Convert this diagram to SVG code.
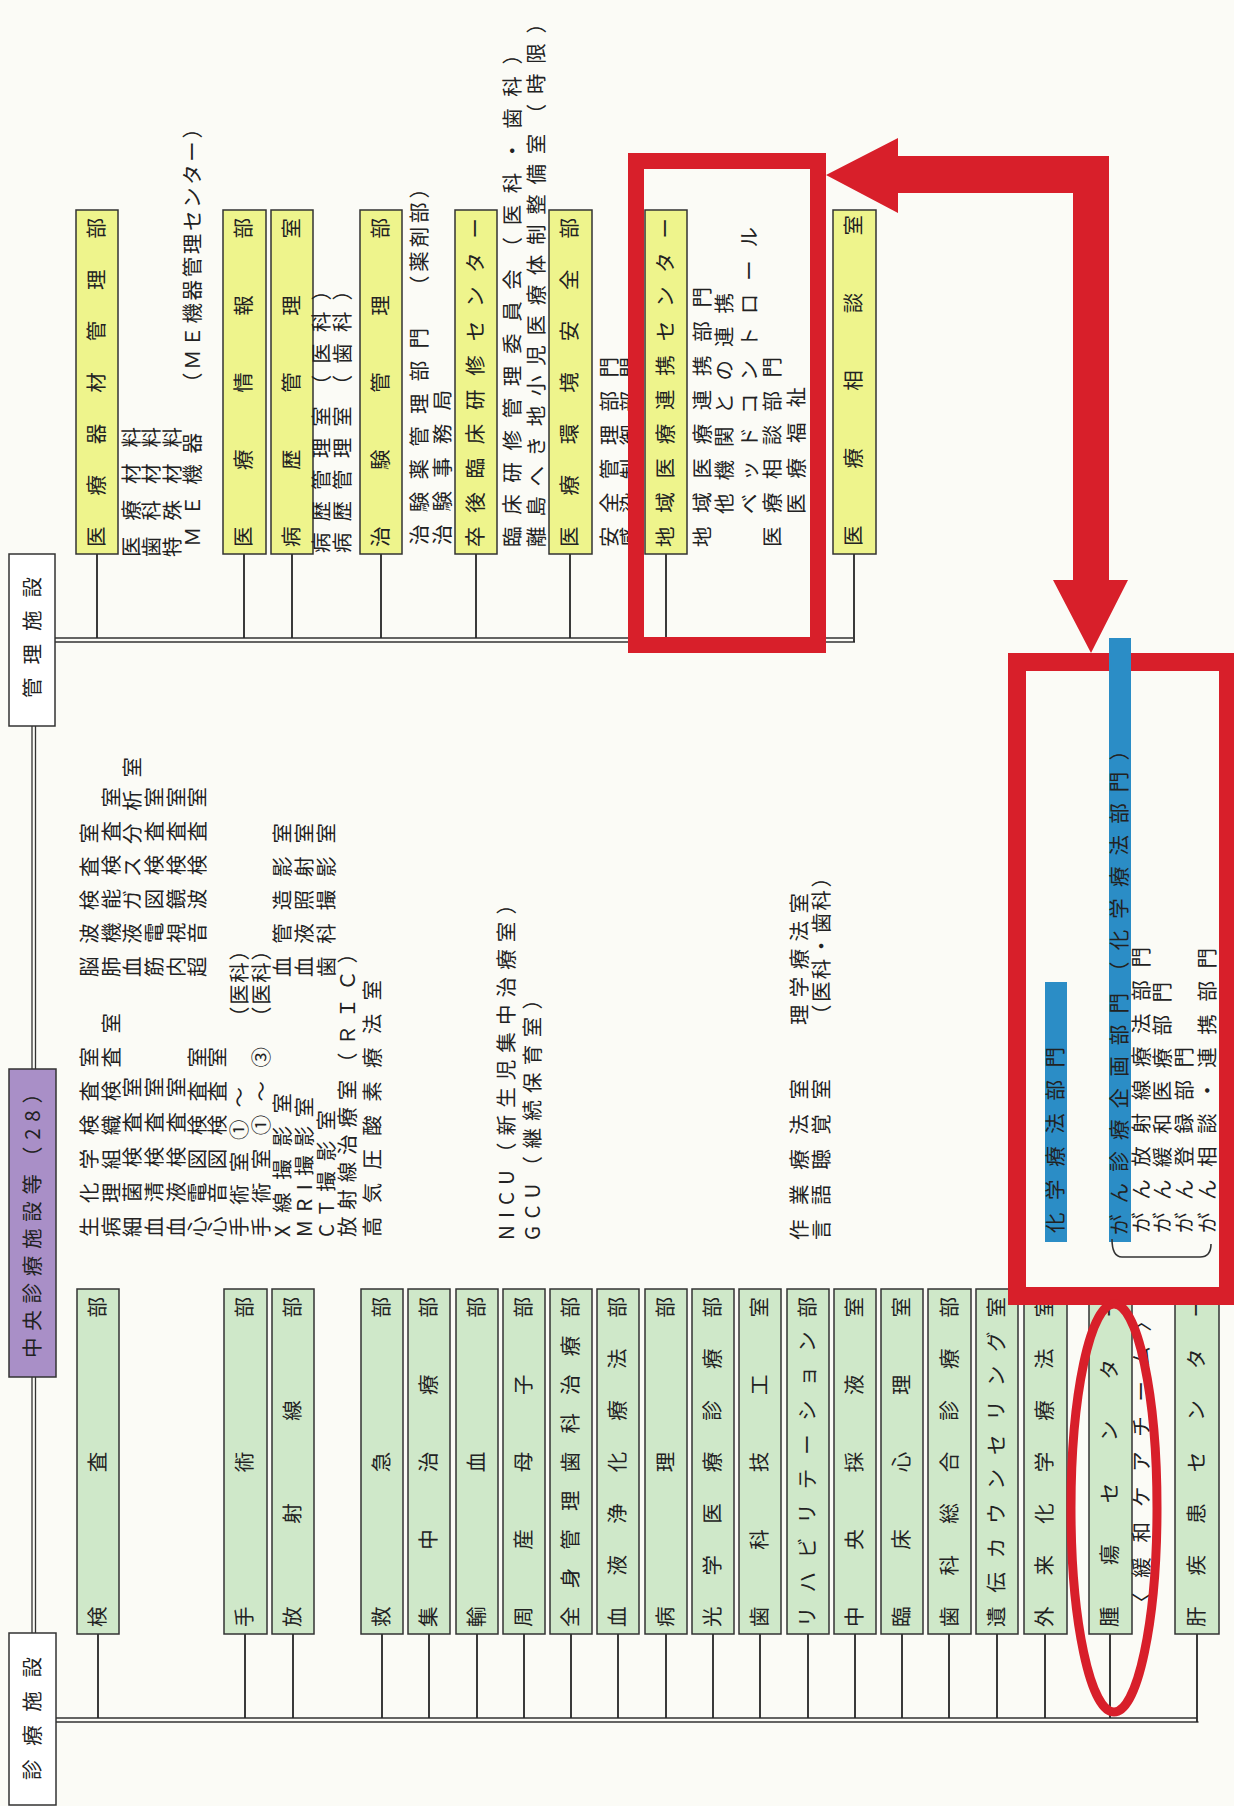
<svg xmlns="http://www.w3.org/2000/svg" width="1234" height="1806" viewBox="0 0 1234 1806">
<style>
.t{font-family:"Noto Sans CJK JP","Noto Sans CJK SC",sans-serif;font-size:20.5px;fill:#222}
.bx{stroke:#333;stroke-width:1.5}
.g{fill:#cfe8c9}.y{fill:#eef48c}.w{fill:#ffffff}.p{fill:#a98fc7}
.ln{stroke:#262626;stroke-width:1.8;fill:none}
.dl{stroke:#333;stroke-width:1.3;fill:none}
.rs{fill:none;stroke:#d81f2a}
.bl{fill:#2b8dc6}
</style>
<rect width="1234" height="1806" fill="#fbfbf6"/>
<g transform="matrix(0 -1 1 0 0 1806)">
<g id="connectors">
<path class="dl" d="M173 32H429M173 35.5H429M737 32H1080M737 35.5H1080"/>
<path class="dl" d="M88 56V1197M84 56V1198.5"/>
<path class="dl" d="M1168 55V853M1164 55V855"/>
<path class="ln" d="M88 98H172M88 245H172M88 293H172M88 382H172M88 429H172M88 477H172M88 524H172M88 571H172M88 618H172M88 666H172M88 713H172M88 760H172M88 808H172M88 855H172M88 902H172M88 949H172M88 997H172M88 1045H172M88 1110H172M84 1197H172"/>
<path class="ln" d="M1168 97H1252M1168 244H1252M1168 292H1252M1168 381H1252M1168 476H1252M1168 570H1252M1168 666H1252M1164 854H1252"/>
</g>
<g id="h-shinryo"><rect class="bx w" x="1" y="9" width="172" height="47"/><text class="t" x="26" y="40" textLength="123">診療施設</text></g>
<g id="h-chuo"><rect class="bx p" x="429" y="9" width="308" height="47"/><text class="t" x="448" y="40" textLength="275">中央診療施設等（28）</text></g>
<g id="h-kanri"><rect class="bx w" x="1080" y="9" width="172" height="46"/><text class="t" x="1108" y="40" textLength="121">管理施設</text></g>

<g id="n-kensa"><rect class="bx g" x="172" y="77" width="345" height="42"/><text class="t" x="179" y="105" textLength="330">検査部</text>
<text class="t" x="569" y="97" textLength="190">生化学検査室</text><text class="t" x="829" y="97" textLength="154">脳波検査室</text>
<text class="t" x="569" y="119" textLength="224">病理組織検査室</text><text class="t" x="829" y="119" textLength="190">肺機能検査室</text>
<text class="t" x="569" y="140" textLength="160">細菌検査室</text><text class="t" x="829" y="140" textLength="220">血液ガス分析室</text>
<text class="t" x="569" y="162" textLength="160">血清検査室</text><text class="t" x="829" y="162" textLength="190">筋電図検査室</text>
<text class="t" x="569" y="184" textLength="160">血液検査室</text><text class="t" x="829" y="184" textLength="190">内視鏡検査室</text>
<text class="t" x="569" y="205" textLength="190">心電図検査室</text><text class="t" x="829" y="205" textLength="190">超音波検査室</text>
<text class="t" x="569" y="225" textLength="190">心音図検査室</text></g>
<g id="n-shujutsu"><rect class="bx g" x="172" y="224" width="345" height="43"/><text class="t" x="179" y="252" textLength="330">手術部</text>
<text class="t" x="569" y="247" textLength="150">手術室①～</text><text class="t" x="779" y="247" textLength="87">（医科）</text>
<text class="t" x="569" y="269" textLength="190">手術室①～③</text><text class="t" x="779" y="269" textLength="87">（医科）</text></g>
<g id="n-hoshasen"><rect class="bx g" x="172" y="272" width="345" height="42"/><text class="t" x="179" y="300" textLength="330">放射線部</text>
<text class="t" x="569" y="290" textLength="144">X線撮影室</text><text class="t" x="829" y="290" textLength="154">血管造影室</text>
<text class="t" x="569" y="312" textLength="140">MRI撮影室</text><text class="t" x="829" y="312" textLength="154">血液照射室</text>
<text class="t" x="569" y="334" textLength="127">CT撮影室</text><text class="t" x="829" y="334" textLength="154">歯科撮影室</text>
<text class="t" x="569" y="355" textLength="294">放射線治療室（ＲＩＣ）</text>
<text class="t" x="569" y="380" textLength="257">高気圧酸素療法室</text></g>
<g id="n-kyukyu"><rect class="bx g" x="172" y="361" width="345" height="42"/><text class="t" x="179" y="389" textLength="330">救急部</text></g>
<g id="n-shuchu"><rect class="bx g" x="172" y="408" width="345" height="42"/><text class="t" x="179" y="436" textLength="330">集中治療部</text></g>
<g id="n-yuketsu"><rect class="bx g" x="172" y="456" width="345" height="42"/><text class="t" x="179" y="484" textLength="330">輸血部</text></g>
<g id="n-shusan"><rect class="bx g" x="172" y="503" width="345" height="42"/><text class="t" x="179" y="531" textLength="330">周産母子部</text>
<text class="t" x="566" y="514" textLength="346">NICU（新生児集中治療室）</text>
<text class="t" x="566" y="540" textLength="251">GCU（継続保育室）</text></g>
<g id="n-zenshin"><rect class="bx g" x="172" y="550" width="345" height="42"/><text class="t" x="179" y="578" textLength="330">全身管理歯科治療部</text></g>
<g id="n-ketsueki"><rect class="bx g" x="172" y="597" width="345" height="42"/><text class="t" x="179" y="625" textLength="330">血液浄化療法部</text></g>
<g id="n-byori"><rect class="bx g" x="172" y="645" width="345" height="42"/><text class="t" x="179" y="673" textLength="330">病理部</text></g>
<g id="n-kogaku"><rect class="bx g" x="172" y="692" width="345" height="42"/><text class="t" x="179" y="720" textLength="330">光学医療診療部</text></g>
<g id="n-gikou"><rect class="bx g" x="172" y="739" width="345" height="42"/><text class="t" x="179" y="767" textLength="330">歯科技工室</text></g>
<g id="n-reha"><rect class="bx g" x="172" y="787" width="345" height="42"/><text class="t" x="179" y="815" textLength="330">リハビリテーション部</text>
<text class="t" x="566" y="807" textLength="161">作業療法室</text><text class="t" x="781" y="807" textLength="132">理学療法室</text>
<text class="t" x="566" y="829" textLength="161">言語聴覚室</text><text class="t" x="781" y="829" textLength="158">（医科・歯科）</text></g>
<g id="n-saieki"><rect class="bx g" x="172" y="834" width="345" height="42"/><text class="t" x="179" y="862" textLength="330">中央採液室</text></g>
<g id="n-shinri"><rect class="bx g" x="172" y="881" width="345" height="42"/><text class="t" x="179" y="909" textLength="330">臨床心理室</text></g>
<g id="n-sogo"><rect class="bx g" x="172" y="928" width="345" height="43"/><text class="t" x="179" y="957" textLength="330">歯科総合診療部</text></g>
<g id="n-iden"><rect class="bx g" x="172" y="976" width="345" height="42"/><text class="t" x="179" y="1004" textLength="330">遺伝カウンセリング室</text></g>
<g id="n-gairai"><rect class="bx g" x="172" y="1024" width="345" height="43"/><text class="t" x="179" y="1052" textLength="330">外来化学療法室</text></g>
<g id="n-shuyo"><rect class="bx g" x="172" y="1089" width="345" height="43"/><text class="t" x="179" y="1117" textLength="330">腫瘍センター</text>
<text class="t" x="193" y="1149" textLength="302">〈緩和ケアチーム〉</text></g>
<g id="n-kanshikkan"><rect class="bx g" x="172" y="1175" width="345" height="44"/><text class="t" x="179" y="1204" textLength="330">肝疾患センター</text></g>

<g id="n-kizai"><rect class="bx y" x="1252" y="76" width="344" height="42"/><text class="t" x="1259" y="104" textLength="329">医療器材管理部</text>
<text class="t" x="1249" y="139" textLength="130">医療材料</text>
<text class="t" x="1249" y="159" textLength="130">歯科材料</text>
<text class="t" x="1249" y="180" textLength="130">特殊材料</text>
<text class="t" x="1259" y="200" textLength="114">ＭＥ機器</text><text class="t" x="1413" y="200" textLength="275">（ＭＥ機器管理センター）</text></g>
<g id="n-joho"><rect class="bx y" x="1252" y="223" width="344" height="43"/><text class="t" x="1259" y="251" textLength="329">医療情報部</text></g>
<g id="n-byoreki"><rect class="bx y" x="1252" y="271" width="344" height="42"/><text class="t" x="1259" y="299" textLength="329">病歴管理室</text>
<text class="t" x="1253" y="329" textLength="273">病歴管理室（医科）</text>
<text class="t" x="1253" y="350" textLength="273">病歴管理室（歯科）</text></g>
<g id="n-chiken"><rect class="bx y" x="1252" y="360" width="344" height="42"/><text class="t" x="1259" y="388" textLength="329">治験管理部</text>
<text class="t" x="1261" y="427" textLength="217">治験薬管理部門</text><text class="t" x="1510" y="427" textLength="118">（薬剤部）</text>
<text class="t" x="1261" y="450" textLength="155">治験事務局</text></g>
<g id="n-sotsugo"><rect class="bx y" x="1252" y="455" width="344" height="42"/><text class="t" x="1259" y="483" textLength="329">卒後臨床研修センター</text>
<text class="t" x="1259" y="520" textLength="503">臨床研修管理委員会（医科・歯科）</text>
<text class="t" x="1259" y="544" textLength="534">離島へき地小児医療体制整備室（時限）</text></g>
<g id="n-anzen"><rect class="bx y" x="1252" y="549" width="344" height="43"/><text class="t" x="1259" y="577" textLength="329">医療環境安全部</text>
<text class="t" x="1259" y="617" textLength="190">安全管理部門</text>
<text class="t" x="1259" y="637" textLength="190">感染制御部門</text></g>
<g id="n-renkei"><rect class="bx y" x="1252" y="645" width="344" height="42"/><text class="t" x="1259" y="673" textLength="329">地域医療連携センター</text>
<text class="t" x="1259" y="710" textLength="260">地域医療連携部門</text>
<text class="t" x="1292" y="732" textLength="221">他機関との連携</text>
<text class="t" x="1292" y="757" textLength="287">ベッドコントロール</text>
<text class="t" x="1259" y="780" textLength="190">医療相談部門</text>
<text class="t" x="1292" y="804" textLength="127">医療福祉</text></g>
<g id="n-sodan"><rect class="bx y" x="1252" y="833" width="344" height="43"/><text class="t" x="1260" y="861" textLength="331">医療相談室</text></g>
</g>

<g id="highlights">
<rect class="rs" x="636" y="161" width="182" height="484" stroke-width="16"/>
<rect class="rs" x="1017" y="662" width="211" height="634" stroke-width="18"/>
<polygon points="826,175 898,138 898,156 1109,156 1109,580 1128,580 1091,653 1053,580 1073,580 1073,193 898,193 898,213" fill="#d81f2a"/>
<ellipse class="rs" cx="1114" cy="1508" rx="43" ry="204" stroke-width="9"/>
<rect class="bl" x="1109" y="638" width="22" height="604"/>
<rect class="bl" x="1045" y="982" width="22" height="260"/>
</g>
<g id="n-gan" transform="matrix(0 -1 1 0 0 1806)">
<text class="t" x="571" y="1127" textLength="495">がん診療企画部門（化学療法部門）</text>
<text class="t" x="573" y="1063" textLength="186">化学療法部門</text>
<text class="t" x="573" y="1149" textLength="286">がん放射線療法部門</text>
<text class="t" x="573" y="1170" textLength="251">がん緩和医療部門</text>
<text class="t" x="573" y="1192" textLength="186">がん登録部門</text>
<text class="t" x="573" y="1215" textLength="285">がん相談・連携部門</text>
<path d="M567 1112Q549 1112 549 1122V1200Q549 1211 562 1211" fill="none" stroke="#333" stroke-width="1.6"/>
</g>
</svg>
